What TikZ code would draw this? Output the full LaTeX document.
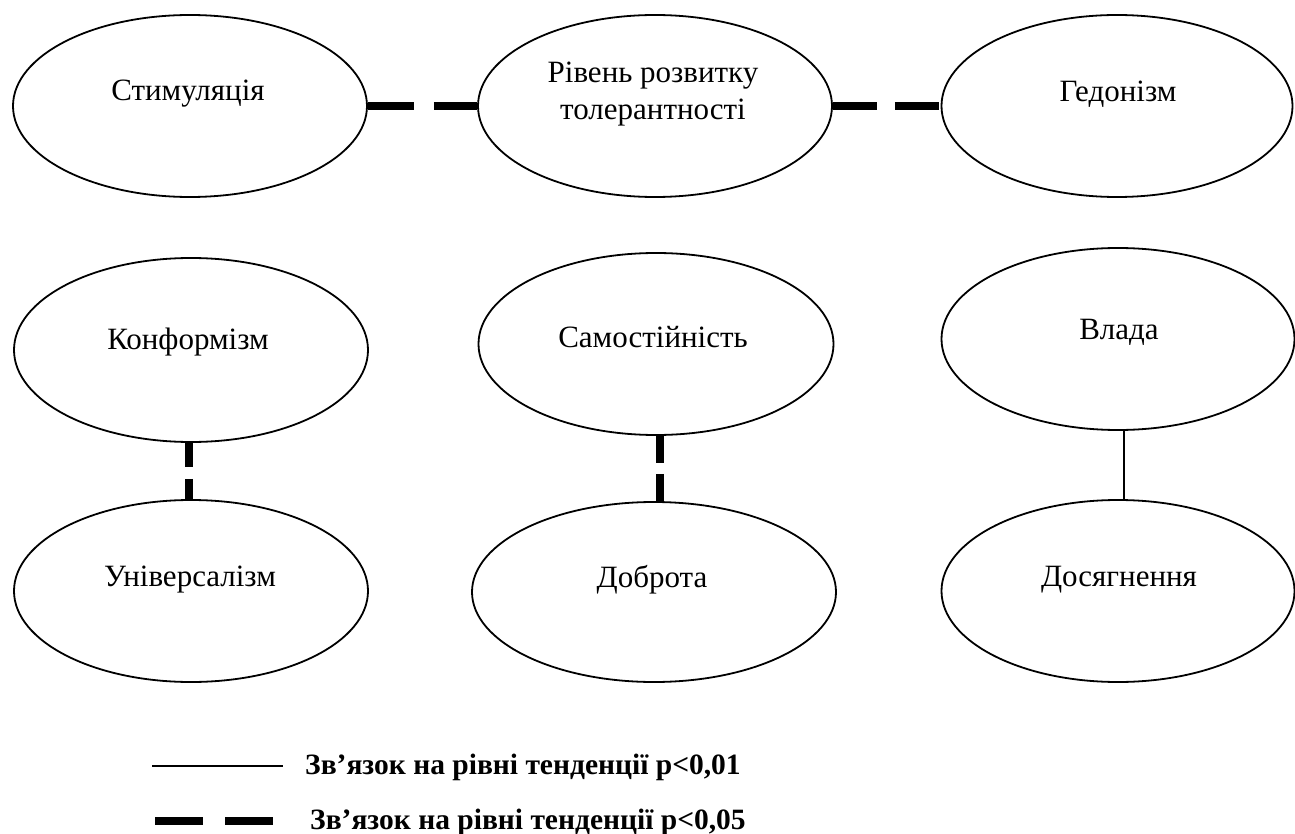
\documentclass[tikz,border=0pt]{standalone}
\usepackage{fontspec}
\setmainfont{Liberation Serif}
\usetikzlibrary{shapes.geometric}
\begin{document}
\begin{tikzpicture}[x=1pt,y=-1pt,
  ell/.style={draw=black,line width=1.8pt,ellipse,inner sep=0pt,minimum width=354pt,minimum height=182pt},
  lbl/.style={inner sep=0pt,font=\fontsize{31}{37}\selectfont,align=center},
  strong/.style={line width=8pt},
  weak/.style={line width=1.6pt},
  legtxt/.style={inner sep=0pt,anchor=west,font=\fontsize{29.5}{33}\selectfont\bfseries}
]
\useasboundingbox (0,0) rectangle (1295,834);
% ellipses
\node[ell] (stim) at (190,106) {};
\node[ell] (riv)  at (655,106) {};
\node[ell,minimum width=351pt] (hed)  at (1117,106) {};
\node[ell,minimum height=184pt] (conf) at (191,350) {};
\node[ell,minimum width=355pt] (sam)  at (656,344) {};
\node[ell,minimum width=353pt] (vlada) at (1118,339) {};
\node[ell] (univ) at (191,591) {};
\node[ell,minimum width=364pt,minimum height=180pt] (dobr) at (654,592) {};
\node[ell,minimum width=353pt] (dos)  at (1118,591) {};
% labels
\node[lbl] (tstim) at (188,94) {Стимуляція};
\node[lbl] (triv)  at (653,94) {Рівень розвитку\\толерантності};
\node[lbl] (thed)  at (1118,94) {Гедонізм};
\node[lbl] (tconf) at (188,342) {Конформізм};
\node[lbl] (tsam)  at (653,337) {Самостійність};
\node[lbl] (tvlada) at (1119,332) {Влада};
\node[lbl] (tuniv) at (190,580) {Універсалізм};
\node[lbl] (tdobr) at (652,580) {Доброта};
\node[lbl] (tdos)  at (1119,580) {Досягнення};
% vertical connector lines
\coordinate (vx1) at (189,0);
\coordinate (vx2) at (660,0);
\coordinate (vx3) at (1124,0);
% connectors
\draw[strong,dash pattern=on 46pt off 20pt] (stim.east) -- (riv.west);
\draw[strong,dash pattern=on 44pt off 18pt] (riv.east) -- (hed.west);
\draw[strong,dash pattern=on 24pt off 12pt] (conf.south -| vx1) -- (univ.north -| vx1);
\draw[strong,dash pattern=on 27pt off 11pt] (sam.south -| vx2) -- (dobr.north -| vx2);
\draw[weak] (vlada.south -| vx3) -- (dos.north -| vx3);
% legend
\coordinate (l1a) at (152,766);
\coordinate (l1b) at (283,766);
\coordinate (l2a) at (155,821);
\coordinate (l2b) at (275,821);
\draw[weak] (l1a) -- (l1b);
\draw[strong,dash pattern=on 48pt off 22pt] (l2a) -- (l2b);
\node[legtxt] (leg1) at (305,767) {Зв’язок на рівні тенденції p<0,01};
\node[legtxt] (leg2) at (310,822) {Зв’язок на рівні тенденції p<0,05};
\end{tikzpicture}
\end{document}
